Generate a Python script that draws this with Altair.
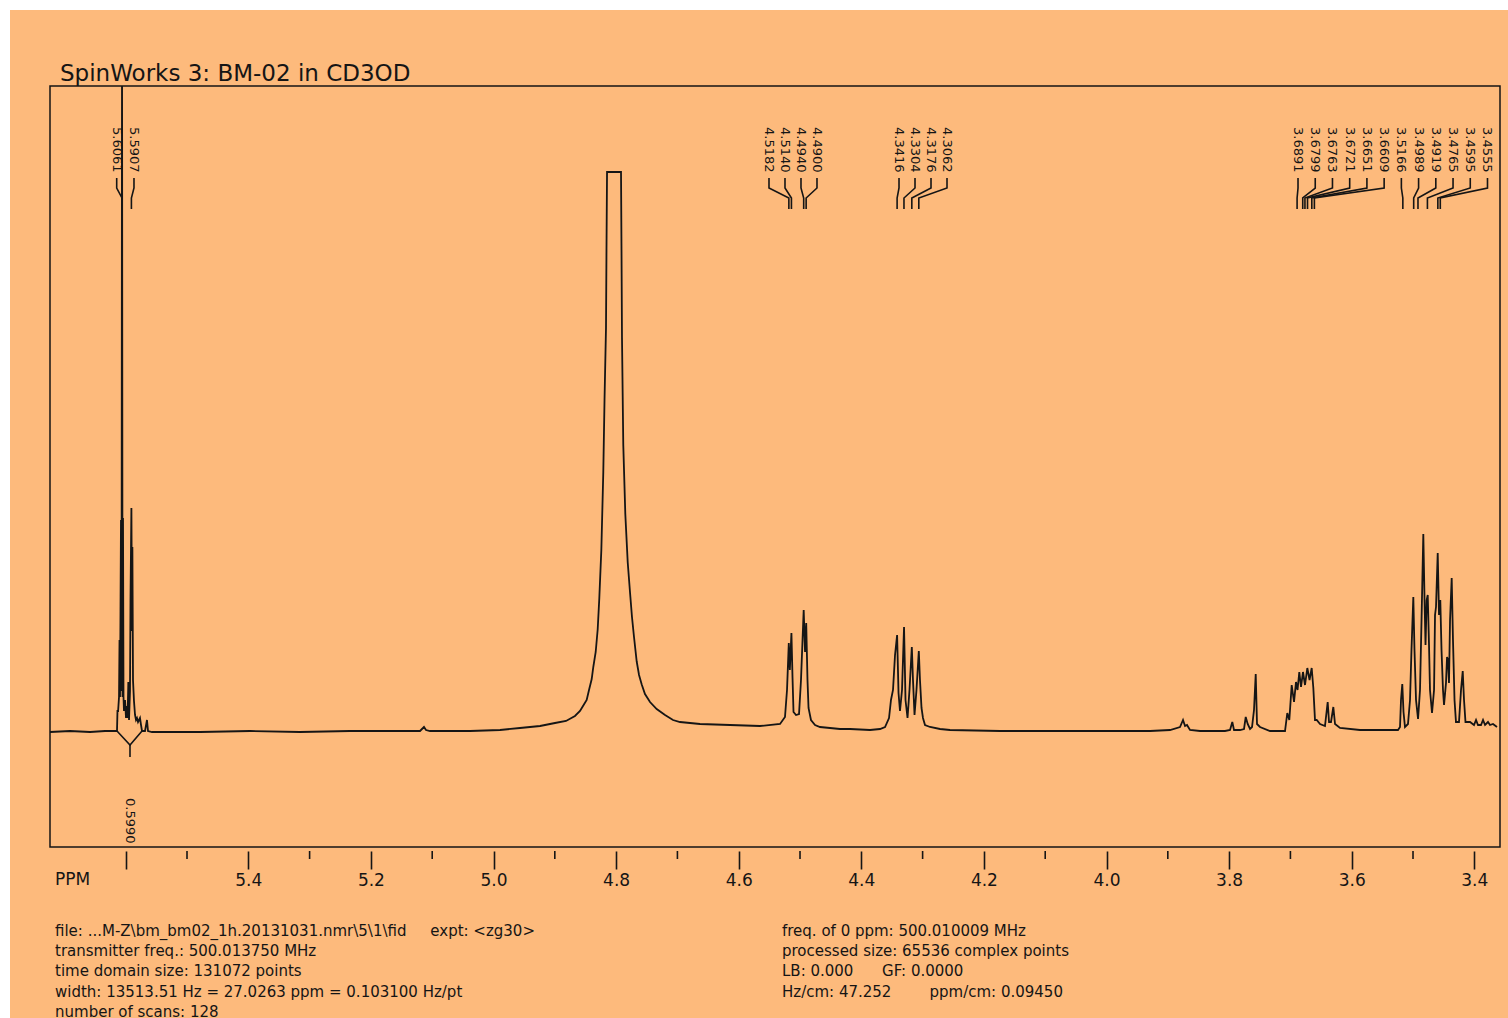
import altair as alt
import pandas as pd

# ---------------- data ----------------
SPEC_PPM = [
    5.7235, 5.6909, 5.6582, 5.6338, 5.6175,
    5.6158, 5.6142, 5.6134, 5.6125, 5.6109, 5.6101, 5.6093, 5.6085, 5.6077, 5.6068,
    5.6060, 5.6052, 5.6044, 5.6036, 5.6028, 5.6011, 5.5995, 5.5979, 5.5970, 5.5957,
    5.5946, 5.5930, 5.5922, 5.5907, 5.5897, 5.5891, 5.5881, 5.5865, 5.5848, 5.5832,
    5.5816, 5.5799, 5.5783, 5.5767, 5.5750, 5.5734,
    5.5685, 5.5653, 5.5636, 5.5571,
    5.4788, 5.3972, 5.3157, 5.2341, 5.1525, 5.1199, 5.1134, 5.1101, 5.1036, 5.0383,
    4.9894, 4.9568, 4.9241, 4.8997, 4.8817, 4.8671, 4.8589, 4.8540, 4.8480, 4.8442,
    4.8398, 4.8372, 4.8333, 4.8300, 4.8274, 4.8241, 4.8209, 4.8189, 4.8165, 4.8157,
    4.8148, 4.7920, 4.7912, 4.7904, 4.7883, 4.7850, 4.7811, 4.7773, 4.7741, 4.7708,
    4.7664, 4.7626, 4.7582, 4.7529, 4.7447, 4.7338, 4.7202, 4.7072, 4.6958, 4.6631,
    4.6142, 4.5653, 4.5326, 4.5245, 4.5212,
    4.5183, 4.5166, 4.5140, 4.5122, 4.5106, 4.5065, 4.5016, 4.4984, 4.4940, 4.4918,
    4.4899, 4.4878, 4.4861, 4.4821, 4.4755, 4.4674, 4.4511, 4.4348, 4.4184, 4.3858,
    4.3695, 4.3613, 4.3548, 4.3516,
    4.3483, 4.3450, 4.3416, 4.3393, 4.3369, 4.3336, 4.3303, 4.3279, 4.3246, 4.3214,
    4.3176, 4.3157, 4.3132, 4.3100, 4.3062, 4.3043, 4.3018, 4.2994, 4.2961, 4.2879,
    4.2716, 4.2553, 4.1737, 4.0922, 4.0106, 3.9290, 3.8964, 3.8801, 3.8752, 3.8719,
    3.8687, 3.8638, 3.8475, 3.8067, 3.7985, 3.7948, 3.7920, 3.7822, 3.7757, 3.7729,
    3.7697, 3.7659, 3.7626, 3.7594, 3.7566, 3.7545, 3.7496, 3.7333, 3.7088,
    3.7051, 3.7018, 3.6979, 3.6941, 3.6909, 3.6884, 3.6855, 3.6827, 3.6795, 3.6762,
    3.6724, 3.6688, 3.6653, 3.6626, 3.6599, 3.6571, 3.6517, 3.6436, 3.6392, 3.6370,
    3.6338, 3.6300, 3.6272, 3.6191, 3.5865, 3.5245,
    3.5212, 3.5196, 3.5175, 3.5155, 3.5131, 3.5082, 3.5049, 3.5025, 3.4995, 3.4976,
    3.4951, 3.4918, 3.4886, 3.4861, 3.4832, 3.4812, 3.4796, 3.4777, 3.4760, 3.4739,
    3.4723, 3.4690, 3.4657, 3.4641, 3.4625, 3.4597, 3.4576, 3.4555, 3.4535, 3.4511,
    3.4494, 3.4462, 3.4445, 3.4429, 3.4413, 3.4396, 3.4369, 3.4348, 3.4323, 3.4299,
    3.4250, 3.4217, 3.4189, 3.4168, 3.4144, 3.4070, 3.4005, 3.3972, 3.3940, 3.3891,
    3.3858, 3.3825, 3.3777, 3.3744, 3.3695, 3.3630,
]
SPEC_INT = [
    -1, 0, -1, 0, 0,
    0, 0, 21, 19, 34, 91, 34, 120, 211, 40,
    711, 34, 213, 34, 20, 31, 13, 25, 13, 49,
    11, 40, 131, 223, 100, 184, 51, 30, 16, 11,
    13, 9, 11, 13, 6, 0,
    0, 11, 0, -1,
    -1, 0, -1, 0, 0, 0, 4, 1, 0, 0,
    1, 3, 5, 8, 10, 15, 20, 25, 31, 41,
    52, 64, 79, 102, 133, 181, 259, 331, 403, 481,
    559, 559, 481, 393, 286, 217, 169, 138.5, 114, 94,
    69.5, 56, 46.5, 37, 29, 22, 16, 11, 9, 7,
    6, 5, 7, 14, 41,
    88, 61, 98, 53, 19, 16, 17, 51, 121, 79,
    108, 51, 23, 11, 6, 4, 3, 2, 2, 1,
    2, 4, 13, 31,
    41, 76, 96, 38, 20, 41, 104, 31, 13, 41,
    84, 51, 16, 41, 80, 51, 23, 13, 6, 4,
    2, 1, 0, 0, 0, 0, 1, 4, 11, 5,
    6, 1, 0, 0, 1, 9, 1, 1, 2, 14,
    7, 2, 4, 21, 57, 7, 4, 0, 0,
    18, 11, 46, 29, 49, 41, 59, 44, 59, 46,
    63, 51, 63, 43, 11, 11, 7, 5, 29, 9,
    9, 24, 7, 3, 1, 1,
    4, 31, 47, 19, 4, 7, 31, 81, 134, 81,
    31, 12, 41, 111, 197, 131, 86, 131, 136, 86,
    41, 18, 41, 116, 124, 178, 116, 131, 81, 41,
    26, 48, 74, 71, 48, 111, 153, 91, 31, 9,
    9, 41, 60, 31, 9, 9, 6, 11, 6, 6,
    11, 6, 9, 6, 7, 4,
]

PEAK_GROUPS = [
    [5.6061, 5.5907],
    [4.5182, 4.5140, 4.4940, 4.4900],
    [4.3416, 4.3304, 4.3176, 4.3062],
    [3.6891, 3.6799, 3.6763, 3.6721, 3.6651, 3.6609,
     3.5166, 3.4989, 3.4919, 3.4765, 3.4595, 3.4555],
]
LABEL_START = [5.6147, 4.5506, 4.3385, 3.6876]   # ppm of first label column
LABEL_STEP = [0.0282, 0.0261, 0.0261, 0.0281]    # ppm between label columns

# integral marker below the 5.6 ppm doublet
INTEGRAL_V_PPM = [5.6142, 5.5930, 5.5734]
INTEGRAL_V_INT = [0, -14, 0]
INTEGRAL_PPM = 5.5930
INTEGRAL_TEXT = "0.5990"

MAJOR_TICKS = [5.6, 5.4, 5.2, 5.0, 4.8, 4.6, 4.4, 4.2, 4.0, 3.8, 3.6, 3.4]
MINOR_TICKS = [5.5, 5.3, 5.1, 4.9, 4.7, 4.5, 4.3, 4.1, 3.9, 3.7, 3.5]

NB = "\u00a0"
TITLE = "SpinWorks 3: BM-02 in CD3OD"
FOOT_LEFT = [
    "file: ...M-Z\\bm_bm02_1h.20131031.nmr\\5\\1\\fid" + NB * 5 + "expt: <zg30>",
    "transmitter freq.: 500.013750 MHz",
    "time domain size: 131072 points",
    "width: 13513.51 Hz = 27.0263 ppm = 0.103100 Hz/pt",
    "number of scans: 128",
]
FOOT_RIGHT = [
    "freq. of 0 ppm: 500.010009 MHz",
    "processed size: 65536 complex points",
    "LB: 0.000" + NB * 6 + "GF: 0.0000",
    "Hz/cm: 47.252" + NB * 8 + "ppm/cm: 0.09450",
]

# ---------------- layout / style ----------------
ORANGE = "#FDBA7C"
INK = "#151515"
FONT = "DejaVu Sans"
W, H = 1450, 761
X_DOMAIN = [3.3581, 5.7235]
Y_DOMAIN = [-116, 645]
CONN_Y = [553, 543, 533, 522]   # connector bends, in intensity units

xs = alt.Scale(domain=X_DOMAIN, reverse=True, nice=False, zero=False)
ys = alt.Scale(domain=Y_DOMAIN, nice=False, zero=False)

x_axis = alt.Axis(
    values=MAJOR_TICKS, tickSize=18, tickWidth=1.6, tickColor=INK,
    domain=False, grid=False, labelFontSize=17, labelFont=FONT,
    labelColor=INK, labelPadding=3, offset=4, title=None,
    labelFlush=False, labelOverlap=False,
    labelExpr="datum.value > 5.55 ? '' : format(datum.value, '.1f')",
)


def X(field):
    return alt.X(field, scale=xs, axis=x_axis)


def Y(field):
    return alt.Y(field, scale=ys, axis=None)


spec_df = pd.DataFrame({"ppm": SPEC_PPM, "I": SPEC_INT})

conn_rows, lab_rows = [], []
k = 0
for g, peaks in enumerate(PEAK_GROUPS):
    for i, p in enumerate(peaks):
        st = LABEL_START[g] - i * LABEL_STEP[g]
        pts = [(st, CONN_Y[0]), (st, CONN_Y[1]), (p, CONN_Y[2]), (p, CONN_Y[3])]
        for s, (xx, yy) in enumerate(pts):
            conn_rows.append({"id": k, "seq": s, "ppm": xx, "I": yy})
        lab_rows.append({"ppm": st, "txt": f"{p:.4f}"})
        k += 1
conn_df = pd.DataFrame(conn_rows)
lab_df = pd.DataFrame(lab_rows)

one = pd.DataFrame({"a": [0]})

white_top = alt.Chart(one).mark_rect(color="white").encode(
    x=alt.value(-50), x2=alt.value(1458), y=alt.value(-86), y2=alt.value(-76))
white_left = alt.Chart(one).mark_rect(color="white").encode(
    x=alt.value(-50), x2=alt.value(-40), y=alt.value(-86), y2=alt.value(932))

spectrum = alt.Chart(spec_df).mark_line(
    color=INK, strokeWidth=1.8, clip=True, interpolate="linear"
).encode(
    x=X("ppm:Q"),
    y=Y("I:Q"),
    order=alt.Order("ppm:Q", sort="descending"),
)

connectors = alt.Chart(conn_df).mark_line(color=INK, strokeWidth=1.6).encode(
    x=X("ppm:Q"),
    y=Y("I:Q"),
    detail="id:N",
    order="seq:Q",
)

labels = alt.Chart(lab_df).mark_text(
    angle=90, align="left", baseline="middle", fontSize=13, font=FONT, color=INK
).encode(
    x=X("ppm:Q"),
    y=alt.value(41),
    text="txt:N",
)

minor = alt.Chart(pd.DataFrame({"t": MINOR_TICKS})).mark_rule(
    color=INK, strokeWidth=1.6
).encode(
    x=X("t:Q"),
    y=alt.value(H + 4), y2=alt.value(H + 12),
)

integ_v = alt.Chart(pd.DataFrame({"ppm": INTEGRAL_V_PPM, "I": INTEGRAL_V_INT})).mark_line(
    color=INK, strokeWidth=1.6
).encode(x=X("ppm:Q"), y=Y("I:Q"), order=alt.Order("ppm:Q", sort="descending"))

integ_df = pd.DataFrame({"ppm": [INTEGRAL_PPM], "a": [-14], "b": [-26],
                         "c": [-67], "txt": [INTEGRAL_TEXT]})
integ_stem = alt.Chart(integ_df).mark_rule(color=INK, strokeWidth=1.6).encode(
    x=X("ppm:Q"),
    y=Y("a:Q"), y2="b:Q",
)
integ_text = alt.Chart(integ_df).mark_text(
    angle=90, align="left", baseline="middle", fontSize=13, font=FONT, color=INK
).encode(
    x=X("ppm:Q"),
    y=Y("c:Q"),
    text="txt:N",
)

ppm_lbl = alt.Chart(one).mark_text(
    align="left", baseline="top", fontSize=17, font=FONT, color=INK
).encode(x=alt.value(5), y=alt.value(H + 25), text=alt.value("PPM"))

title = alt.Chart(one).mark_text(
    align="left", baseline="alphabetic", fontSize=23, font=FONT, color=INK
).encode(x=alt.value(10), y=alt.value(-5), text=alt.value(TITLE))

foot_l = alt.Chart(one).mark_text(
    align="left", baseline="alphabetic", fontSize=15, font=FONT, color=INK,
    lineHeight=20.2
).encode(x=alt.value(5), y=alt.value(850), text=alt.value(FOOT_LEFT))

foot_r = alt.Chart(one).mark_text(
    align="left", baseline="alphabetic", fontSize=15, font=FONT, color=INK,
    lineHeight=20.2
).encode(x=alt.value(732), y=alt.value(850), text=alt.value(FOOT_RIGHT))

chart = alt.layer(
    white_top, white_left, spectrum, connectors, labels, minor, integ_v,
    integ_stem, integ_text, ppm_lbl, title, foot_l, foot_r,
).properties(
    width=W, height=H,
    padding={"left": 50, "top": 86, "right": 8, "bottom": 171},
    autosize=alt.AutoSizeParams(type="none"),
    background=ORANGE,
).configure_view(stroke=INK, strokeWidth=1.5, fill=None)

chart.save("out.html", embed_options={"renderer": "svg", "actions": False})
